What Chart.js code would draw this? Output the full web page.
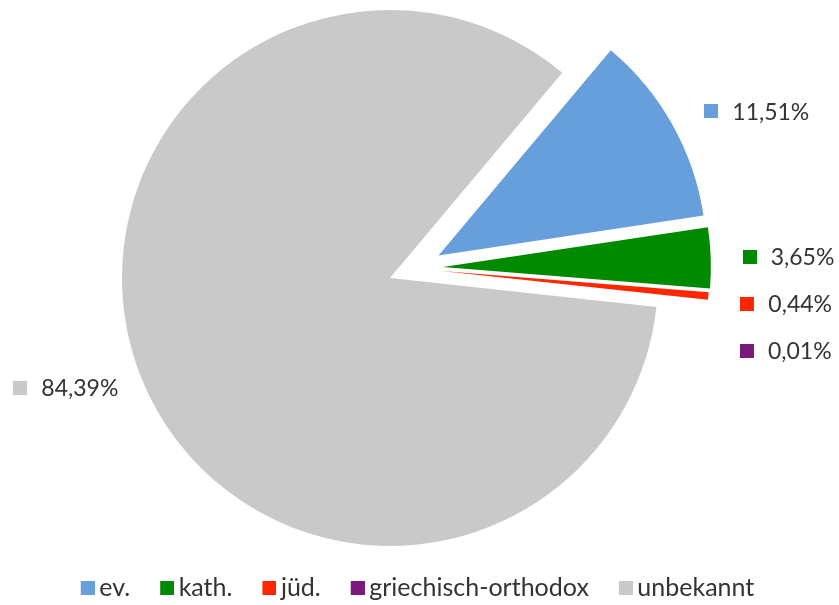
<!DOCTYPE html>
<html><head><meta charset="utf-8">
<script src="https://cdn.jsdelivr.net/npm/chart.js@4/dist/chart.umd.min.js"></script>
<style>html,body{margin:0;padding:0;background:#fff}#wrap{width:839px;height:605px;position:relative}</style>
</head><body><div id="wrap"><canvas id="c" width="839" height="605"></canvas></div>
<script>
// ---- data ----
const categories = ['ev.', 'kath.', 'jüd.', 'griechisch-orthodox', 'unbekannt'];
const shares = [11.51, 3.65, 0.44, 0.01, 84.39];
const valueLabels = ['11,51%', '3,65%', '0,44%', '0,01%', '84,39%'];

// ---- style ----
const colors = ['#669FDC', '#008A00', '#FF2600', '#7A1A7A', '#C9C9C9'];
const explodeDist = [53.5, 54, 52, 52, 0];      // px a slice is pulled out
const explodeTurn = [4.4, -9.7, -13.2, -14, 0];  // deg, direction tweak vs. slice mid-angle
const FONT = 'Lato, "Open Sans", sans-serif';
const LABEL_SIZE = 23;
const LEGEND_SIZE = 25;
const TEXT = '#333333';
const PIE_CX = 390, PIE_CY = 278, PIE_R = 268;

function swatch(color) {
  const c = document.createElement('canvas');
  c.width = 18; c.height = 14;
  const g = c.getContext('2d');
  g.fillStyle = color; g.fillRect(4, 0, 14, 14);
  return c;
}
const swatches = colors.map(swatch);

const placePie = {
  id: 'placePie',
  afterLayout(chart) {
    const a = chart.chartArea;
    const dx = PIE_CX - (a.left + a.right) / 2;
    const dy = PIE_CY - (a.top + a.bottom) / 2;
    a.left += dx; a.right += dx; a.top += dy; a.bottom += dy;
  }
};

const explode = {
  id: 'explode',
  afterDatasetUpdate(chart, args) {
    args.meta.data.forEach((arc, i) => {
      const d = explodeDist[i];
      if (!d) return;
      const dir = (arc.startAngle + arc.endAngle) / 2 + explodeTurn[i] * Math.PI / 180;
      arc.x += Math.cos(dir) * d;
      arc.y += Math.sin(dir) * d;
    });
  }
};

const sliceLabels = {
  id: 'sliceLabels',
  afterDatasetsDraw(chart) {
    const meta = chart.getDatasetMeta(0);
    const ctx = chart.ctx;
    ctx.save();
    ctx.font = LABEL_SIZE + 'px ' + FONT;
    ctx.textBaseline = 'middle';
    ctx.textAlign = 'left';
    let lastRightY = -Infinity;
    meta.data.forEach((arc, i) => {
      const mid = (arc.startAngle + arc.endAngle) / 2;
      const tipX = arc.x + Math.cos(mid) * arc.outerRadius;
      const tipY = arc.y + Math.sin(mid) * arc.outerRadius;
      const w = ctx.measureText(valueLabels[i]).width;
      let boxX, y = tipY + 27 * Math.sin(mid);
      if (Math.cos(mid) >= 0) {
        boxX = tipX + 32;
        y = Math.max(y, lastRightY + 47);
        lastRightY = y;
      } else {
        boxX = tipX - 23 - w - 28;
      }
      ctx.fillStyle = colors[i];
      ctx.fillRect(Math.round(boxX), Math.round(y - 7), 14, 14);
      ctx.fillStyle = TEXT;
      ctx.fillText(valueLabels[i], boxX + 28, y + 1);
    });
    ctx.restore();
  }
};

new Chart(document.getElementById('c'), {
  type: 'pie',
  data: {
    labels: categories,
    datasets: [{
      data: shares,
      backgroundColor: colors,
      borderWidth: 0,
      hoverOffset: 0,
      clip: false
    }]
  },
  options: {
    responsive: false,
    animation: false,
    events: [],
    rotation: 40,
    radius: PIE_R,
    layout: { padding: { top: 0, left: 0, right: 0, bottom: -5.5 } },
    plugins: {
      tooltip: { enabled: false },
      title: { display: false },
      legend: {
        position: 'bottom',
        labels: {
          usePointStyle: true,
          pointStyleWidth: 2,
          padding: 34,
          color: TEXT,
          font: { family: FONT, size: LEGEND_SIZE },
          generateLabels() {
            return categories.map((c, i) => ({
              text: c, fillStyle: colors[i], strokeStyle: colors[i], lineWidth: 0,
              pointStyle: swatches[i], hidden: false, index: i, fontColor: TEXT
            }));
          }
        }
      }
    }
  },
  plugins: [placePie, explode, sliceLabels]
});
</script>
</body></html>
